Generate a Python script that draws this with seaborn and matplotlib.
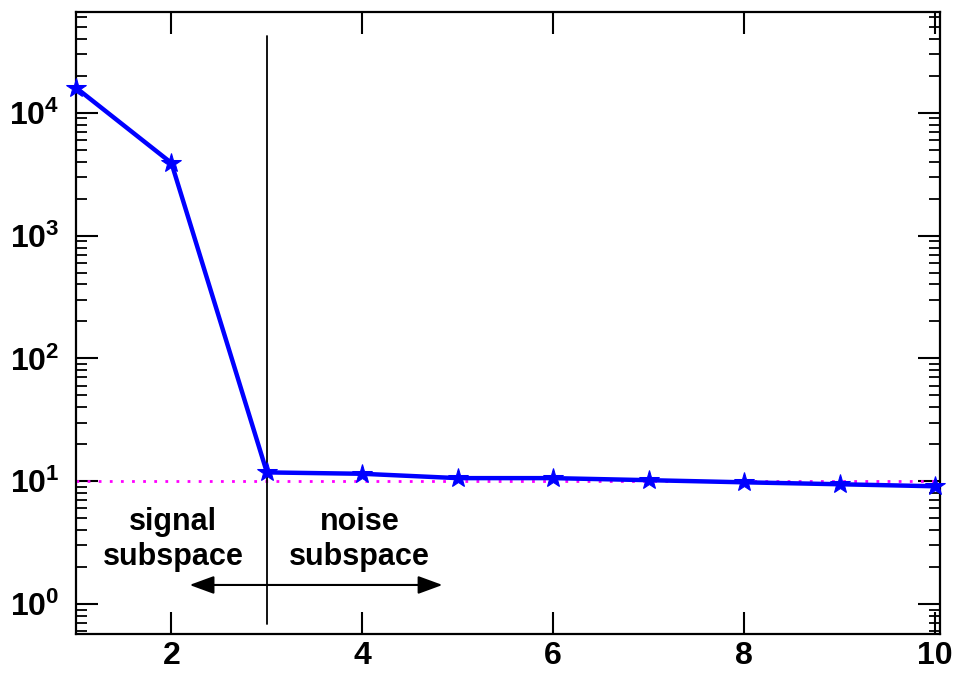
import matplotlib
matplotlib.use("Agg")
import matplotlib.pyplot as plt
import seaborn as sns
import pandas as pd
from matplotlib.ticker import LogLocator, NullFormatter, FixedLocator

sns.set_style("ticks")
plt.rcParams['font.family'] = ['Liberation Sans', 'DejaVu Sans']
plt.rcParams['text.color'] = 'black'
plt.rcParams['xtick.color'] = 'black'
plt.rcParams['ytick.color'] = 'black'
plt.rcParams['axes.labelcolor'] = 'black'
plt.rcParams['mathtext.default'] = 'regular'

# Data
index = [1, 2, 3, 4, 5, 6, 7, 8, 9, 10]
eigenvalues = [16000, 3900, 11.8, 11.5, 10.6, 10.6, 10.2, 9.8, 9.45, 9.1]
noise_level = 10
split_x = 3
x_ticks = [2, 4, 6, 8, 10]
signal_label = "signal\nsubspace"
noise_label = "noise\nsubspace"

df = pd.DataFrame({"index": index, "eigenvalue": eigenvalues})

fig = plt.figure(figsize=(9.56, 6.75), dpi=100)
ax = fig.add_axes([0.0795, 0.0607, 0.9035, 0.9213])

sns.lineplot(data=df, x="index", y="eigenvalue", ax=ax, color="#0000ff",
             linewidth=3.2, marker="*", markersize=15, markeredgecolor="#0000ff",
             zorder=3, clip_on=False)
ax.set_yscale("log")
ax.set_xlim(1, 10.05)
ax.set_ylim(0.57, 6.6e4)

ax.plot([1, 10.05], [noise_level, noise_level], linestyle=(0, (1, 3)),
        color="#ff00ff", linewidth=2, zorder=2)
ax.plot([split_x, split_x], [0.69, 4.2e4], color="black", linewidth=1.3, zorder=2)

ax.annotate("", xy=(2.19, 1.43), xytext=(4.84, 1.43),
            arrowprops=dict(arrowstyle="<|-|>,head_length=1.5,head_width=0.55",
                            color="black", lw=1.5, shrinkA=0, shrinkB=0))

ax.text(2.02, 3.35, signal_label, ha="center", va="center", fontsize=22,
        fontweight="bold", linespacing=1.25)
ax.text(3.97, 3.35, noise_label, ha="center", va="center", fontsize=22,
        fontweight="bold", linespacing=1.25)

ax.set_xlabel("")
ax.set_ylabel("")
ax.xaxis.set_major_locator(FixedLocator(x_ticks))
ax.yaxis.set_major_locator(LogLocator(base=10, numticks=10))
ax.yaxis.set_minor_locator(LogLocator(base=10, subs=range(2, 10), numticks=20))
ax.yaxis.set_minor_formatter(NullFormatter())

ax.tick_params(axis="both", which="major", direction="in", length=16, width=1.5,
               top=True, right=True, labelsize=23)
ax.tick_params(axis="y", which="major", pad=12)
ax.tick_params(axis="x", which="major", pad=5)
ax.tick_params(axis="y", which="minor", direction="in", length=8, width=1.3,
               left=True, right=True)
ax.tick_params(axis="x", which="minor", bottom=False, top=False)
for lab in ax.get_xticklabels() + ax.get_yticklabels():
    lab.set_fontweight("bold")
for s in ax.spines.values():
    s.set_linewidth(1.6)
    s.set_visible(True)
    s.set_color("black")

fig.savefig("out.png", dpi=100)
